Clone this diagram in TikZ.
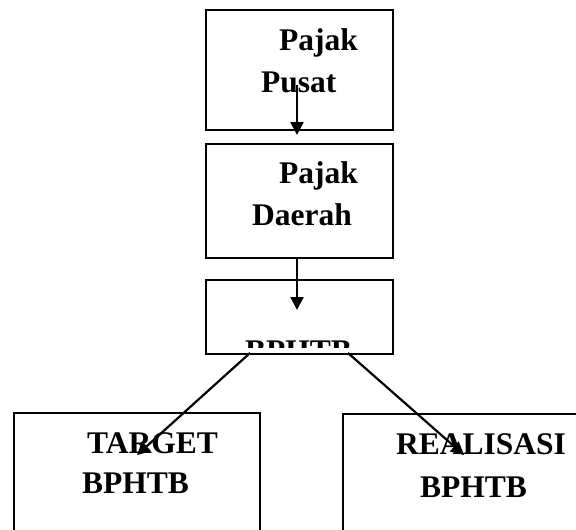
\documentclass[tikz,border=0pt]{standalone}
\usepackage{fontspec}
\setmainfont{Liberation Serif}
\usetikzlibrary{arrows.meta}
\begin{document}
\begin{tikzpicture}[x=1pt,y=-1pt,
  box/.style={draw, line width=1.7pt, anchor=north west, inner sep=0pt},
  lbl/.style={anchor=base west, inner sep=0pt, font=\fontsize{31.5}{36}\selectfont\bfseries},
  link/.style={line width=2.2pt, -{Triangle[length=13pt,width=13pt]}}]
\useasboundingbox (0,0) rectangle (576,530);
\clip (0,0) rectangle (576,530);

% boxes
\node[box, minimum width=187pt, minimum height=120pt] (pusat)  at (205,9)   {};
\node[box, minimum width=187pt, minimum height=114pt] (daerah) at (205,143) {};
\node[box, minimum width=187pt, minimum height=74pt]  (bphtb)  at (205,279) {};
\node[box, minimum width=246pt, minimum height=150pt] (target) at (13,412)  {};
\node[box, minimum width=260pt, minimum height=150pt] (real)   at (342,413) {};

% labels
\node[lbl] (pusatA)  at (279,50)  {Pajak};
\node[lbl] (pusatB)  at (261,92)  {Pusat};
\node[lbl] (daerahA) at (279,183) {Pajak};
\node[lbl] (daerahB) at (252,225) {Daerah};
\begin{scope}
  \clip (205,279) rectangle (392,347);
  \node[lbl] (bphtbA) at (245,361) {BPHTB};
\end{scope}
\node[lbl] (targetA) at (87,453)  {TARGET};
\node[lbl] (targetB) at (82,493)  {BPHTB};
\node[lbl] (realA)   at (396,454) {REALISASI};
\node[lbl] (realB)   at (420,497) {BPHTB};

% connector ends
\coordinate (a1s) at (297,85);
\coordinate (a1e) at (297,135);
\coordinate (a2e) at (297,310);
\coordinate (d1s) at (250,353);
\coordinate (d1e) at (137,455);
\coordinate (d2s) at (348,353);
\coordinate (d2e) at (464,455);

% connectors
\draw[link] (a1s) -- (a1e);
\draw[link] (daerah.south -| a1s) -- (a2e);
\draw[link] (d1s) -- (d1e);
\draw[link] (d2s) -- (d2e);
\end{tikzpicture}
\end{document}
